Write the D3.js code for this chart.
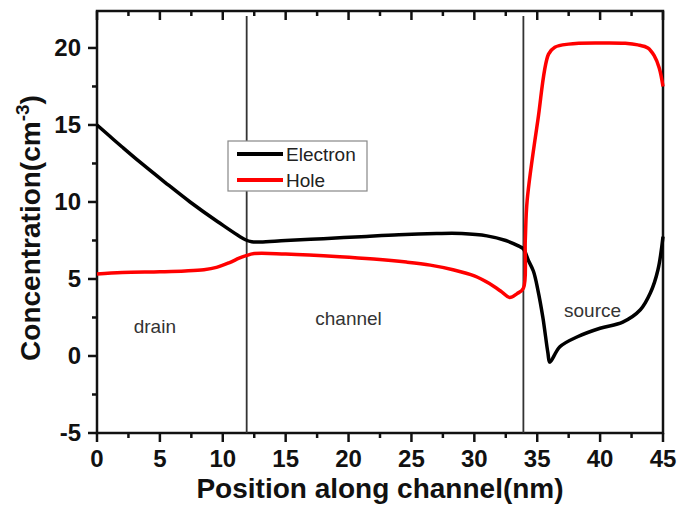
<!DOCTYPE html>
<head>
<meta charset="utf-8">
<title>Concentration along channel</title>
<script type="text/javascript" src="https://d3js.org/d3.v7.min.js"></script>
<style>
    body { margin: 0; background: #fff; }
    text { font-family: "Liberation Sans", Arial, sans-serif; }
</style>
</head>
<body>
<div id="my_dataviz"></div>
<script>

    // electron concentration, [position nm, value]
    var electron = [
        [0, 15], [1, 14.28], [2, 13.57], [3.4, 12.6], [5.4, 11.28], [7.4, 10.0], [9.6, 8.72],
        [11.8, 7.55], [12.3, 7.42], [13, 7.4], [15, 7.5], [18, 7.62], [21, 7.75], [24, 7.88],
        [27, 7.95], [29, 7.95], [31, 7.8], [32.5, 7.5], [33.5, 7.15], [33.9, 6.95],
        [34.3, 6.2], [34.7, 5.5], [35.05, 4.3], [35.45, 2.5], [35.85, 0.2], [36, -0.4],
        [36.8, 0.6], [38.2, 1.25], [40, 1.8], [41.8, 2.2], [43.2, 3.0], [44, 4.1], [44.6, 5.6], [45, 7.75]
    ];

    // hole concentration
    var hole = [
        [0, 5.33], [2, 5.42], [5, 5.47], [7, 5.52], [8.5, 5.6], [9.5, 5.75], [10.5, 6.05], [11.3, 6.35], [11.8, 6.5],
        [12.5, 6.65], [15, 6.62], [19.3, 6.45], [22, 6.3], [24.6, 6.1], [26.5, 5.9], [28.3, 5.6],
        [30, 5.2], [31.2, 4.7], [32.2, 4.15], [32.8, 3.8], [33.4, 4.05], [33.9, 4.4],
        [34.05, 7.5], [34.2, 10.1], [35.05, 15.3], [35.9, 19.6], [36.4, 20.05], [37.5, 20.25],
        [40, 20.32], [42, 20.3], [43, 20.2], [43.8, 20.0], [44.3, 19.5], [44.7, 18.7], [45, 17.5]
    ];

    var xTicks = [0, 5, 10, 15, 20, 25, 30, 35, 40, 45];
    var yTicks = [-5, 0, 5, 10, 15, 20];
    var boundaries = [11.9, 33.9];
    var regions = [
        {name: "drain", x: 4.6, y: 1.5},
        {name: "channel", x: 20.0, y: 2.0},
        {name: "source", x: 39.4, y: 2.55}
    ];
    var legendItems = [
        {name: "Electron", color: "#000000"},
        {name: "Hole", color: "#ff0000"}
    ];

    var W = 680, H = 510;
    var margin = {top: 11, right: 17, bottom: 77, left: 97},
        width = W - margin.left - margin.right,
        height = H - margin.top - margin.bottom;

    var svg = d3.select("#my_dataviz")
      .append("svg")
        .attr("width", W)
        .attr("height", H)
      .append("g")
        .attr("transform", "translate(" + margin.left + "," + margin.top + ")");

    var x = d3.scaleLinear().domain([0, 45]).range([0, width]);
    var y = d3.scaleLinear().domain([-5, 22.4]).range([height, 0]);

    var minorX = d3.range(2.5, 45, 5);
    var minorY = d3.range(-2.5, 22.4, 5);

    var axisColor = "#111";

    // ticks: bottom and left outside, top inside
    function tickSet(vals, len, kind) {
        svg.append("g").selectAll("line")
          .data(vals)
          .enter()
          .append("line")
          .attr("x1", function(d) { return kind == "left" ? -len : x(d); })
          .attr("x2", function(d) { return kind == "left" ? 0 : x(d); })
          .attr("y1", function(d) { return kind == "left" ? y(d) : (kind == "top" ? 0 : height); })
          .attr("y2", function(d) { return kind == "left" ? y(d) : (kind == "top" ? len : height + len); })
          .attr("stroke", axisColor)
          .attr("stroke-width", 2.5);
    }
    tickSet(xTicks, 9, "bottom");
    tickSet(minorX, 5, "bottom");
    tickSet(xTicks, 9, "top");
    tickSet(minorX, 5, "top");
    tickSet(yTicks, 9, "left");
    tickSet(minorY, 5, "left");

    // tick labels
    svg.append("g").selectAll("text")
      .data(xTicks)
      .enter()
      .append("text")
      .attr("x", function(d) { return x(d); })
      .attr("y", height + 34)
      .attr("text-anchor", "middle")
      .style("font-size", "24px")
      .style("font-weight", "bold")
      .attr("fill", axisColor)
      .text(function(d) { return d; });

    svg.append("g").selectAll("text")
      .data(yTicks)
      .enter()
      .append("text")
      .attr("x", -16)
      .attr("y", function(d) { return y(d) + 8; })
      .attr("text-anchor", "end")
      .style("font-size", "24px")
      .style("font-weight", "bold")
      .attr("fill", axisColor)
      .text(function(d) { return d; });

    // frame
    svg.append("rect")
      .attr("x", 0).attr("y", 0)
      .attr("width", width).attr("height", height)
      .attr("fill", "none")
      .attr("stroke", axisColor)
      .attr("stroke-width", 2.5);

    // region boundaries
    svg.selectAll("line.bound")
      .data(boundaries)
      .enter()
      .append("line")
      .attr("x1", function(d) { return x(d); })
      .attr("x2", function(d) { return x(d); })
      .attr("y1", 5)
      .attr("y2", height)
      .attr("stroke", "#333")
      .attr("stroke-width", 1.8);

    // region labels
    svg.selectAll("text.region")
      .data(regions)
      .enter()
      .append("text")
      .attr("x", function(d) { return x(d.x); })
      .attr("y", function(d) { return y(d.y); })
      .attr("text-anchor", "middle")
      .style("font-size", "19px")
      .attr("fill", "#333")
      .text(function(d) { return d.name; });

    var line = d3.line()
      .x(function(d) { return x(d[0]); })
      .y(function(d) { return y(d[1]); })
      .curve(d3.curveCatmullRom.alpha(0.5));

    svg.append("path")
      .datum(electron)
      .attr("d", line)
      .attr("fill", "none")
      .attr("stroke", "#000")
      .attr("stroke-width", 3.5)
      .attr("stroke-linejoin", "round");

    svg.append("path")
      .datum(hole)
      .attr("d", line)
      .attr("fill", "none")
      .attr("stroke", "#ff0000")
      .attr("stroke-width", 3.5)
      .attr("stroke-linejoin", "round");

    // legend
    var lg = svg.append("g").attr("transform", "translate(" + (228 - margin.left) + "," + (141 - margin.top) + ")");
    lg.append("rect")
      .attr("width", 139).attr("height", 50)
      .attr("fill", "#fff")
      .attr("stroke", "#888")
      .attr("stroke-width", 1.2);
    var li = lg.selectAll("g.item")
      .data(legendItems)
      .enter()
      .append("g")
      .attr("transform", function(d, i) { return "translate(0," + (13 + i * 26) + ")"; });
    li.append("line")
      .attr("x1", 9).attr("x2", 55)
      .attr("stroke", function(d) { return d.color; })
      .attr("stroke-width", 4);
    li.append("text")
      .attr("x", 58).attr("y", 7)
      .style("font-size", "19px")
      .attr("fill", "#222")
      .text(function(d) { return d.name; });

    // axis titles
    svg.append("text")
      .attr("x", width / 2)
      .attr("y", height + 65)
      .attr("text-anchor", "middle")
      .style("font-size", "28px")
      .style("font-weight", "bold")
      .attr("fill", axisColor)
      .text("Position along channel(nm)");

    var yt = svg.append("text")
      .attr("transform", "translate(" + (-57) + "," + (height / 2 + 6) + ") rotate(-90)")
      .attr("text-anchor", "middle")
      .style("font-size", "28px")
      .style("font-weight", "bold")
      .attr("fill", axisColor);
    yt.append("tspan").text("Concentration(cm");
    yt.append("tspan").attr("dy", -11).style("font-size", "19px").text("-3");
    yt.append("tspan").attr("dy", 11).text(")");

</script>
</body>
